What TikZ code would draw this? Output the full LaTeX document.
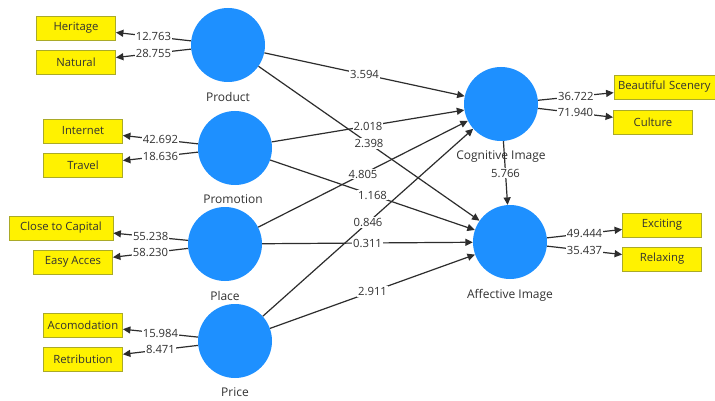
\documentclass[tikz,border=0pt]{standalone}
\usepackage{fontspec}
\setmainfont{Open Sans}
\usetikzlibrary{arrows.meta}
\definecolor{plsblue}{RGB}{30,144,255}
\definecolor{yelbord}{RGB}{170,170,40}
\definecolor{txtc}{RGB}{50,50,50}
\definecolor{linec}{RGB}{45,45,45}
\begin{document}
\begin{tikzpicture}[x=1pt,y=-1pt,
  font=\fontsize{11.3}{13}\selectfont,
  lv/.style={circle, fill=plsblue, minimum size=74pt, inner sep=0pt},
  ind/.style={draw=yelbord, line width=0.8pt, fill=yellow, minimum width=79pt, minimum height=24pt, inner sep=0pt, text=txtc},
  lvname/.style={text=txtc, inner sep=0pt, font=\fontsize{12}{14}\selectfont},
  lbl/.style={fill=white, inner sep=1pt, text=txtc},
  conn/.style={draw=linec, line width=1.2pt, -{Triangle[length=7.5pt,width=7pt]}},
]
\clip (0,0) rectangle (715,401);
\fill[white] (0,0) rectangle (715,401);

% latent variables
\node[lv] (prod)  at (228,45)  {};
\node[lv] (prom)  at (235,148) {};
\node[lv] (place) at (225,244) {};
\node[lv] (price) at (235,341) {};
\node[lv] (cog)   at (501,104) {};
\node[lv] (aff)   at (510,242) {};

% latent variable names
\node[lvname] (prodl)  at (228,97)  {Product};
\node[lvname] (proml)  at (233,199) {Promotion};
\node[lvname] (placel) at (225,296) {Place};
\node[lvname] (pricel) at (235,392) {Price};
\node[lvname] (cogl)   at (501,157) {Cognitive Image};
\node[lvname] (affl)   at (510,295) {Affective Image};

% indicators
\node[ind] (her)   at (76,28)   {Heritage};
\node[ind] (nat)   at (76,62)   {Natural};
\node[ind] (int)   at (83,131)  {Internet};
\node[ind] (trav)  at (83,165)  {Travel};
\node[ind, minimum width=104pt] (cap) at (61,228) {Close to Capital};
\node[ind] (easy)  at (73,262)  {Easy Acces};
\node[ind] (acom)  at (83,325)  {Acomodation};
\node[ind] (retr)  at (83,359)  {Retribution};
\node[ind, minimum width=112pt, text width=104pt, align=left] (beau) at (670,87) {Beautiful Scenery};
\node[ind] (cult)  at (653,122) {Culture};
\node[ind] (exc)   at (662,225) {Exciting};
\node[ind] (rel)   at (662,259) {Relaxing};

% outer loadings
\draw[conn] (prod)  -- node[lbl]{12.763} (her);
\draw[conn] (prod)  -- node[lbl]{28.755} (nat);
\draw[conn] (prom)  -- node[lbl]{42.692} (int);
\draw[conn] (prom)  -- node[lbl]{18.636} (trav);
\draw[conn] (place) -- node[lbl]{55.238} (cap);
\draw[conn] (place) -- node[lbl]{58.230} (easy);
\draw[conn] (price) -- node[lbl]{15.984} (acom);
\draw[conn] (price) -- node[lbl]{8.471} (retr);
\draw[conn] (cog)   -- node[lbl]{36.722} (beau);
\draw[conn] (cog)   -- node[lbl]{71.940} (cult);
\draw[conn] (aff)   -- node[lbl]{49.444} (exc);
\draw[conn] (aff)   -- node[lbl]{35.437} (rel);

% structural paths
\draw[conn] (prod)  -- (cog);
\draw[conn] (prod)  -- (aff);
\draw[conn] (prom)  -- (cog);
\draw[conn] (prom)  -- (aff);
\draw[conn] (place) -- (cog);
\draw[conn] (place) -- (aff);
\draw[conn] (price) -- (cog);
\draw[conn] (price) -- (aff);
\draw[conn] (cog)   -- (aff);

\path (prod)  -- node[lbl]{3.594} (cog);
\path (prod)  -- node[lbl]{2.398} (aff);
\path (prom)  -- node[lbl]{2.018} (cog);
\path (prom)  -- node[lbl]{1.168} (aff);
\path (place) -- node[lbl]{4.805} (cog);
\path (place) -- node[lbl]{0.311} (aff);
\path (price) -- node[lbl]{0.846} (cog);
\path (price) -- node[lbl]{2.911} (aff);
\path (cog)   -- node[lbl]{5.766} (aff);
\end{tikzpicture}
\end{document}
